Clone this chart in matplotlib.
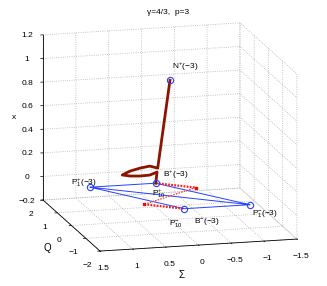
import numpy as np
import matplotlib
matplotlib.use('Agg')
import matplotlib.pyplot as plt

plt.rcParams['font.family'] = ['Liberation Sans', 'DejaVu Sans']
plt.rcParams['mathtext.fontset'] = 'custom'
plt.rcParams['mathtext.rm'] = 'Liberation Sans'
plt.rcParams['mathtext.default'] = 'rm'

# equilibrium points (Sigma, Q, x)
eq_names = ['N+', 'B+', 'B-', 'P1+', 'P1-']
eq_sigma = [0.0, 0.0, 0.0, 1.0, -1.0]
eq_q = [0.0, 1.0, -1.0, 1.0, -1.0]
eq_x = [0.98, 0.0, 0.0, 0.0, 0.0]

# heteroclinic orbits in the x=0 plane (blue)
orb_sigma = [1.0, 0.0, -1.0, 0.0, 1.0, -1.0]
orb_q = [1.0, 1.0, -1.0, -1.0, 1.0, -1.0]
orb_x = [0.0, 0.0, 0.0, 0.0, 0.0, 0.0]

# lines of equilibria P10+ / P10- (red)
p10p_sigma = [0.0, -0.5]
p10p_q = [1.0, 0.5]
p10m_sigma = [0.5, 0.0]
p10m_q = [-0.5, -1.0]
link_sigma = [-0.5, 0.5]
link_q = [0.5, -0.5]

# numerical trajectory (dark red)
traj_sigma = [0.0, -0.03, 0.09, 0.24, 0.39, 0.51, 0.39, 0.24, 0.09, -0.02, 0.0]
traj_q = [0.0, 1.0, 1.0, 1.0, 1.0, 1.0, 1.0, 1.0, 1.0, 1.0, 1.0]
traj_x = [0.98, 0.127, 0.148, 0.136, 0.116, 0.087, 0.074, 0.069, 0.072, 0.094, 0.0]

# point labels and where they sit relative to a point (dSigma, dQ, dx)
lab_text = [r'N$^{+}$(−3)', r'B$^{+}$(−3)', r'P$^{+}_{1}$(−3)', r'P$^{+}_{10}$',
            r'P$^{-}_{1}$(−3)', r'P$^{-}_{10}$', r'B$^{-}$(−3)']
lab_anchor = [0, 1, 3, 1, 4, 2, 2]
lab_off = [(-0.03, 0, 0.11), (-0.11, 0, 0.068), (0.29, 0, 0.05), (0.06, 0, -0.085),
           (-0.03, 0, -0.076), (0.23, 0, -0.12), (-0.15, 0, -0.11)]

sig_ticks = [1.5, 1, 0.5, 0, -0.5, -1, -1.5]
q_ticks = [-2, -1, 0, 1, 2]
x_ticks = [-0.2, 0, 0.2, 0.4, 0.6, 0.8, 1, 1.2]

W, H = 327, 286
fig = plt.figure(figsize=(W / 100, H / 100), dpi=100)
ax = fig.add_axes([0.1, 0.1, 0.8, 0.8], projection='3d', proj_type='ortho')
ax.view_init(elev=13.5, azim=-104.6)
ax.set_box_aspect((1, 1.11, 0.835))

blue = (0.15, 0.25, 1.0)
ax.plot(orb_sigma, orb_q, orb_x, color=blue, lw=0.7)
ax.plot(p10p_sigma, p10p_q, [0, 0], color=(1, 0.1, 0.1), ls=(0, (0.8, 0.6)), lw=1.6)
ax.plot(p10m_sigma, p10m_q, [0, 0], color=(1, 0.1, 0.1), ls=(0, (0.8, 0.6)), lw=1.6)
ax.plot(link_sigma, link_q, [0, 0], color=(1, 0.2, 0.2), ls=(0, (1.2, 1.0)), lw=0.9)
ax.plot(link_sigma, link_q, [0, 0], 's', color='red', ms=1.8)
ax.plot(traj_sigma, traj_q, traj_x, color=(0.55, 0.08, 0.0), lw=2)
ax.plot(eq_sigma, eq_q, eq_x, 'o', mfc='none', mec=blue, ms=4.5, mew=0.8)

for txt, a, off in zip(lab_text, lab_anchor, lab_off):
    ax.text(eq_sigma[a] + off[0], eq_q[a] + off[1], eq_x[a] + off[2], txt,
            fontsize=6, ha='left', va='center')

ax.set_xlim(1.5, -1.5)
ax.set_ylim(-2, 2)
ax.set_zlim(-0.2, 1.2)
ax.set_xticks(sig_ticks)
ax.set_yticks(q_ticks)
ax.set_zticks(x_ticks)
ax.set_xticklabels(['1.5', '1', '0.5', '0', '−0.5', '−1', '−1.5'])
ax.set_yticklabels(['−2', '−1', '0', '1', '2'])
ax.set_zticklabels(['−0.2', '0', '0.2', '0.4', '0.6', '0.8', '1', '1.2'])
ax.tick_params(labelsize=6, pad=0)

for axis in (ax.xaxis, ax.yaxis, ax.zaxis):
    axis.set_pane_color((1, 1, 1, 0))
    axis.pane.set_edgecolor((1, 1, 1, 0))
    axis.line.set_color('k')
    axis.line.set_linewidth(0.6)
    axis.offsetText.set_visible(False)
    axis._axinfo['grid'].update({'color': (0.7, 0.7, 0.7), 'linestyle': ':', 'linewidth': 0.6})
    axis._axinfo['tick'].update({'inward_factor': 0.15, 'outward_factor': 0.0})
    axis._axinfo['tick']['linewidth'] = {True: 0.5, False: 0.5}

# the empty 2D titles of the 3D axes are not used
for ttl in (ax.title, ax._left_title, ax._right_title):
    ttl.set_visible(False)

fig.text(14 / W, 1 - 117 / H, 'x', fontsize=6, ha='center', va='center')
fig.text(47 / W, 1 - 248 / H, 'Q', fontsize=7, ha='center', va='center')
fig.text(181 / W, 1 - 275 / H, 'Σ', fontsize=7, ha='center', va='center')
fig.text(168 / W, 1 - 13 / H, 'γ=4/3,  p=3', fontsize=6, ha='center', va='center')

# fit the box corners onto where they sit in the reference
corners = np.array([[1.5, -2, -0.2], [-1.5, -2, -0.2], [1.5, 2, -0.2], [1.5, 2, 1.2]])
target = np.array([[100, 251], [297, 239], [43, 200], [43, 35]], float)
target[:, 1] = H - target[:, 1]


def project(pts):
    M = ax.get_proj()
    out = []
    for p in pts:
        v = M @ np.array([p[0], p[1], p[2], 1.0])
        out.append((v[0] / v[3], v[1] / v[3]))
    return ax.transData.transform(np.array(out))


for _ in range(3):
    fig.canvas.draw()
    meas = project(corners)
    mc, tc = meas.mean(0), target.mean(0)
    s = np.sum((meas - mc) * (target - tc)) / np.sum((meas - mc) ** 2)
    t = tc - s * mc
    bb = ax.get_position(original=False)
    L, B, S = bb.x0 * W, bb.y0 * H, bb.width * W
    ax.set_position([(s * L + t[0]) / W, (s * B + t[1]) / H, s * S / W, s * S / H])

fig.savefig('out.png', dpi=100)
